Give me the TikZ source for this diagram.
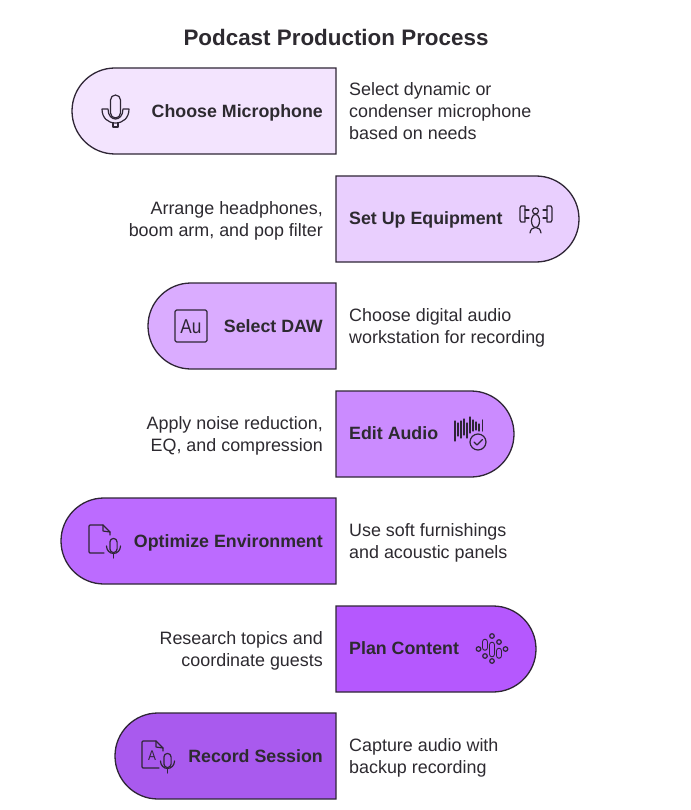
\documentclass[tikz,border=0pt]{standalone}
\usepackage{fontspec}
\setmainfont{Liberation Sans}
\definecolor{ink}{HTML}{2F2636}
\definecolor{txt}{HTML}{2D2A30}
\definecolor{ca}{HTML}{F3E4FE}
\definecolor{cb}{HTML}{E9CFFE}
\definecolor{cc}{HTML}{DAACFF}
\definecolor{cd}{HTML}{CB8BFF}
\definecolor{ce}{HTML}{BC6BFF}
\definecolor{cf}{HTML}{B558FE}
\definecolor{cg}{HTML}{A95AEE}
\tikzset{
  band/.style={draw=ink,line width=1.3pt,line join=miter},
  icon/.style={draw=ink,line width=1.2pt,line cap=round,line join=round},
  head/.style={font=\bfseries\fontsize{17.8}{20}\selectfont,text=txt,inner sep=0pt,anchor=base east},
  headl/.style={head,anchor=base west},
  desc/.style={font=\fontsize{17.9}{22}\selectfont,text=txt,inner sep=0pt,align=left,anchor=west},
  descr/.style={desc,align=right,anchor=east},
  pics/micbody/.style={code={
    \draw[icon] (-3.6,-4) -- (-3.6,3) arc[start angle=180,end angle=0,radius=3.6] -- (3.6,-4) arc[start angle=360,end angle=180,radius=3.6] -- cycle;
    \draw[icon] (-7,0) arc[start angle=180,end angle=0,x radius=7,y radius=7.5];
    \draw[icon] (0,7.5) -- (0,12);
  }}
}
\begin{document}
\begin{tikzpicture}[x=1pt,y=-1pt]
\useasboundingbox (0,0) rectangle (690,810);
\fill[white] (0,0) rectangle (690,810);
\node[font=\bfseries\fontsize{22.4}{26}\selectfont,text=txt,inner sep=0pt,anchor=base] (title) at (336,46) {Podcast Production Process};

% bands
\path[band,fill=ca] (336,68) -- (336,154) -- (115,154) arc[start angle=90,end angle=270,radius=43] -- cycle;
\path[band,fill=cb] (336,176) -- (336,262) -- (536,262) arc[start angle=90,end angle=-90,radius=43] -- cycle;
\path[band,fill=cc] (336,283) -- (336,369) -- (191,369) arc[start angle=90,end angle=270,radius=43] -- cycle;
\path[band,fill=cd] (336,391) -- (336,477) -- (471,477) arc[start angle=90,end angle=-90,radius=43] -- cycle;
\path[band,fill=ce] (336,498) -- (336,584) -- (104,584) arc[start angle=90,end angle=270,radius=43] -- cycle;
\path[band,fill=cf] (336,606) -- (336,692) -- (493,692) arc[start angle=90,end angle=-90,radius=43] -- cycle;
\path[band,fill=cg] (336,713) -- (336,799) -- (158,799) arc[start angle=90,end angle=270,radius=43] -- cycle;

% headings
\node[head] (h1) at (323,118) {Choose Microphone};
\node[headl] (h2) at (349,225) {Set Up Equipment};
\node[head] (h3) at (323,332.5) {Select DAW};
\node[headl] (h4) at (349,439.5) {Edit Audio};
\node[head] (h5) at (323,547.5) {Optimize Environment};
\node[headl] (h6) at (349,654.5) {Plan Content};
\node[head] (h7) at (323,762.5) {Record Session};

% descriptions
\node[desc] (d1) at (349,111) {Select dynamic or\\condenser microphone\\based on needs};
\node[descr] (d2) at (323,221) {Arrange headphones,\\boom arm, and pop filter};
\node[desc] (d3) at (349,328) {Choose digital audio\\workstation for recording};
\node[descr] (d4) at (323,436) {Apply noise reduction,\\EQ, and compression};
\node[desc] (d5) at (349,543) {Use soft furnishings\\and acoustic panels};
\node[descr] (d6) at (323,651) {Research topics and\\coordinate guests};
\node[desc] (d7) at (349,758) {Capture audio with\\backup recording};

% icon 1: microphone
\draw[icon] (110.5,100) arc[start angle=180,end angle=360,radius=5] -- (120.5,113) arc[start angle=0,end angle=180,radius=5] -- cycle;
\draw[icon] (102,109) -- (108,109) .. controls (108,116) and (112,119) .. (115.5,119) .. controls (119,119) and (123,116) .. (123,109) -- (129,109) .. controls (129,118) and (123,123) .. (115.5,123) .. controls (108,123) and (102,118) .. (102,109) -- cycle;
\draw[icon] (113,123) -- (113,127) -- (118,127) -- (118,123);

% icon 2: equipment
\draw[icon] (525,206) -- (521,206) -- (520,208) -- (520,220) -- (521,222) -- (525,222) -- cycle;
\draw[icon] (525,210) -- (529,210) (525,218) -- (529,218);
\draw[icon] (547,206) -- (551,206) -- (552,208) -- (552,220) -- (551,222) -- (547,222) -- cycle;
\draw[icon] (547,210) -- (543,210) (547,218) -- (543,218);
\draw[icon] (535.5,211) circle[radius=3];
\draw[icon] (535.5,221) ellipse[x radius=4,y radius=6.5];
\draw[icon] (530,233) .. controls (530.5,229) and (533,227.5) .. (535.5,227.5) .. controls (538,227.5) and (540.5,229) .. (541,233);

% icon 3: Au
\draw[icon,rounded corners=1.5pt] (175,310) rectangle (207,342);
\node[font=\fontsize{20}{22}\selectfont,text=ink,inner sep=0pt,anchor=base,xscale=.86] (au) at (191,333) {Au};

% icon 4: wave and check
\foreach \x/\a/\b in {455/421/441,458/423/436,461/421/438,464/419/435,467/423/438,470/417/433,473/420/431,476/422/430,479/424/431,482.5/420/431}
  \draw[icon] (\x,\a) -- (\x,\b);
\draw[icon,fill=cd] (478,442) circle[radius=8];
\draw[icon] (474,442) -- (477,445) -- (482.5,439.5);

% icon 5: document and mic
\draw[icon] (104,553) -- (90,553) -- (89,552) -- (89,526) -- (90,525) -- (103,525) -- (110,532) -- (110,535);
\draw[icon] (103,525) -- (103,531) -- (110,532);
\pic at (113.5,546) {micbody};

% icon 6: voice dots
\foreach \x/\y in {478.5/649,485/656,492/636,492/661,499/642,505.5/649}
  \draw[icon] (\x,\y) circle[radius=2.3];
\foreach \x/\a/\b in {485/642/647.5,492/645/654,499/651/655.5}
  \draw[line width=6.6pt,draw=ink,line cap=round] (\x,\a) -- (\x,\b);
\foreach \x/\a/\b in {485/642/647.5,492/645/654,499/651/655.5}
  \draw[line width=4.2pt,draw=cf,line cap=round] (\x,\a) -- (\x,\b);

% icon 7: document A and mic
\draw[icon] (159,768) -- (143,768) -- (142,767) -- (142,742) -- (143,741) -- (156,741) -- (163,748) -- (163,751);
\draw[icon] (156,741) -- (156,747) -- (163,748);
\node[font=\fontsize{14}{16}\selectfont,text=ink,inner sep=0pt,anchor=base,xscale=.85] (doca) at (152,760.5) {A};
\pic at (167.5,761) {micbody};
\end{tikzpicture}
\end{document}
